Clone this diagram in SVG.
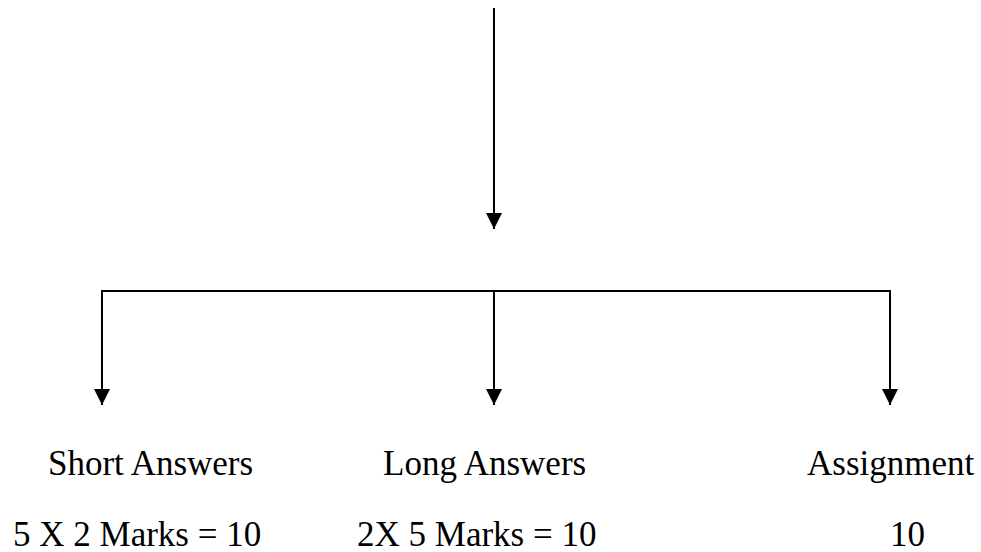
<svg xmlns="http://www.w3.org/2000/svg" width="981" height="552" viewBox="0 0 981 552">
<style>
.ln{stroke:#000;stroke-width:2;fill:none}
.t{font-family:"Liberation Serif","Times New Roman",serif;font-size:35px;fill:#000}
</style>
<defs>
<marker id="ah" viewBox="0 0 16 16" refX="16" refY="8" markerWidth="16" markerHeight="16" markerUnits="userSpaceOnUse" orient="auto">
<path d="M0,0 L16,8 L0,16 Z" fill="#000"/>
</marker>
</defs>
<rect width="981" height="552" fill="#fff"/>
<g id="connectors">
<line class="ln" x1="494" y1="8" x2="494" y2="229" marker-end="url(#ah)"/>
<line class="ln" x1="102" y1="291" x2="890" y2="291"/>
<line class="ln" x1="102" y1="290" x2="102" y2="405" marker-end="url(#ah)"/>
<line class="ln" x1="494" y1="291" x2="494" y2="405" marker-end="url(#ah)"/>
<line class="ln" x1="890" y1="290" x2="890" y2="405" marker-end="url(#ah)"/>
</g>
<g id="short">
<text class="t" x="48" y="475">Short Answers</text>
<text class="t" x="13" y="546">5 X 2 Marks = 10</text>
</g>
<g id="long">
<text class="t" x="383" y="475">Long Answers</text>
<text class="t" x="357" y="546">2X 5 Marks = 10</text>
</g>
<g id="assignment">
<text class="t" x="807" y="475">Assignment</text>
<text class="t" x="890" y="546">10</text>
</g>
</svg>
